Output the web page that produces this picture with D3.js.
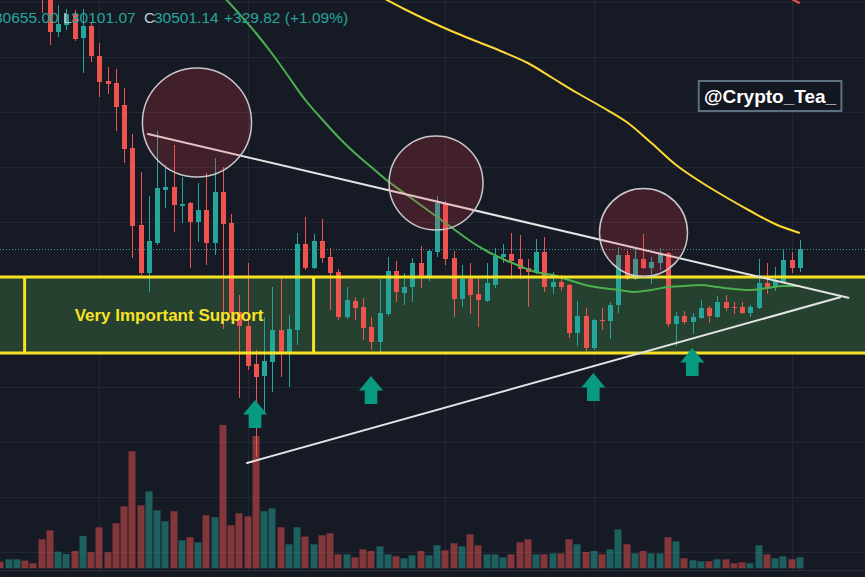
<!DOCTYPE html>
<html><head><meta charset="utf-8">
<script src="https://cdn.jsdelivr.net/npm/d3@7/dist/d3.min.js"></script>
<style>html,body{margin:0;padding:0;background:#161a25;overflow:hidden}svg{display:block}</style>
</head><body><svg id="c" width="865" height="577"></svg>
<script>
// ---- data (price per candle, index 0..97) ----
const opens = [37700,37400,37600,37700,37500,37400,35700,34900,35040,35260,34780,35020,34420,33920,33880,33440,32580,31040,30080,30680,31740,31800,31420,31480,31100,31340,30680,31700,31080,29300,29020,28260,28020,28300,28940,28480,28940,30660,30180,30720,30400,30100,29200,29520,29400,29000,28700,29260,30120,29680,29800,30280,30000,30500,31480,30380,29560,29960,29660,29520,29840,30400,30460,30360,30180,30080,30500,29800,29900,29840,28880,29220,28580,29140,29120,29440,30440,29960,30360,30180,30280,30480,29060,29220,29100,29180,29380,29200,29500,29400,29400,29280,29380,29880,29820,29900,30340,30180];
const highs = [37900,37800,37900,37850,37600,37500,35940,35440,35360,35340,35360,35100,34680,34200,34160,33780,32860,32100,31620,32920,32240,32640,32000,31500,31880,32080,32380,32200,31260,29640,30280,28540,29200,29800,29980,29240,30880,31200,30860,31160,30580,30160,29800,29600,29580,29200,29960,30400,30320,30080,30380,30620,30540,31620,31520,30520,30240,30280,30000,30280,30580,30660,30880,30840,30360,30760,30800,30100,30040,29860,29520,29380,29160,29380,29500,30600,30520,30560,30860,30400,30580,30500,29300,29320,29280,29540,29420,29620,29640,29500,29500,29440,30360,30280,30200,30560,30500,30740];
const lows = [37300,37250,37450,37400,37300,35280,34640,34800,34940,34720,34080,34300,33600,33660,32920,32280,30380,30040,29700,30640,31380,30900,31080,30180,30700,30240,30440,28960,29140,27580,28140,26400,27280,27700,28000,27800,28640,30140,30160,30280,29340,29140,29160,29140,28740,28540,28500,29220,29500,29440,29500,29780,29920,30400,30240,29200,29400,29260,29000,29500,29780,30280,29960,29960,29400,30060,29700,29660,29720,28780,28620,28520,28540,28940,28760,29280,29940,29940,30160,29860,30140,29000,28620,29060,28860,29160,29080,29180,29320,29260,29260,29200,29360,29660,29720,29880,30080,30100];
const closes = [37400,37600,37700,37500,37400,35650,34900,35060,35260,34760,35020,34420,33900,33860,33400,32560,31020,30080,30720,31780,31800,31440,31460,31100,31340,30680,31700,31060,29280,29020,28220,28000,28320,28940,28480,28960,30660,30180,30720,30380,30080,29200,29540,29380,28980,28700,29280,30120,29700,29800,30280,30000,30520,31480,30360,29560,29960,29640,29540,29880,30420,30460,30320,30160,30100,30500,29800,29900,29800,28880,29220,28580,29140,29120,29440,30440,29960,30360,30180,30300,30480,29060,29220,29100,29200,29380,29220,29500,29380,29380,29280,29400,29880,29800,29940,30340,30180,30560];
const volumes = [670,900,900,770,500,2900,3800,1670,1430,1730,3230,1600,4100,1600,4500,6200,11700,6300,7700,5800,4700,5700,2800,3100,2600,5300,5100,14330,4300,5500,5200,13230,5700,6000,4100,2400,4100,3170,2400,3300,3500,1400,1400,1100,1900,1730,2200,1400,1200,1000,1300,1730,1300,2300,1800,2500,2200,3400,2300,1400,1400,1100,1400,2600,2900,1400,1400,1500,1500,2900,2400,1630,1730,1400,1900,3900,2400,1500,1730,1500,1500,3100,2700,1000,800,700,700,900,900,500,600,500,2300,1400,1000,1200,900,1100];

// moving averages (candle index, value)
const maGreenIdx = [27,29,31,33,35,37,39,41,43,45,47,49,51,53,55,57,59,61,63,65,67,69,71,73,75,77,79,81,83,85,87,89,91,93,95,97];
const maGreenVal = [35620,35260,34880,34460,34000,33540,33160,32800,32480,32200,31920,31680,31440,31200,30960,30720,30520,30360,30220,30100,30040,29940,29840,29780,29740,29700,29740,29800,29820,29840,29800,29760,29740,29780,29820,29820];
const maYellowIdx = [46,49,52,55,58,61,64,67,70,73,76,79,82,85,88,91,94,97];
const maYellowVal = [35620,35360,35120,34900,34700,34500,34280,33980,33680,33400,33100,32680,32240,31900,31600,31320,31060,30880];
const maRedIdx = [94,95,96,97];
const maRedVal = [35740,35660,35560,35480];

// grid
const gridPrices = [24500,25600,26700,27800,28900,30000,31100,32200,33300,34400,35500];
const gridIdx = [12,30,54,72,96];

// drawings
const supportTop = 30000, supportBottom = 28480;
const supportStart = -5, supportEnd = 110;
const supportLabelFrom = 2.93, supportLabelTo = 38.0;
const supportLabel = "Very Important Support";
const circleIdx = [23.85, 52.86, 78.04];
const circlePrice = [33090, 31880, 30890];
const circleRadiusBars = [6.62, 5.70, 5.34];
const upperLine = [[17.9, 32860],[102.9, 29586]];
const lowerLine = [[29.92, 26280],[101.9, 29594]];
const arrowIdx = [30.9, 44.97, 71.95, 83.96];
const arrowPrice = [27540, 28020, 28080, 28580];
const tagText = "@Crypto_Tea_";
const tagIdx = 93.4, tagPrice = 33620;
const header = [["30655.00","#26a69a",-6],["L","#c5c8d0",63],["30101.07","#26a69a",71],["C","#c5c8d0",144],["30501.14","#26a69a",154],["+329.82 (+1.09%)","#26a69a",224]];

// ---- drawing ----
const W = 865, H = 577;
const svg = d3.select("#c");
const x = d3.scaleLinear().domain([0, 97]).range([0.46, 799.74]);
const y = d3.scaleLinear().domain([24000, 35540]).range([577, 0]);
const yv = d3.scaleLinear().domain([0, 10000]).range([568.3, 468.3]);
const UP = "#26a69a", DN = "#ef5350";
const n = closes.length;
const idx = d3.range(n);

svg.append("rect").attr("width", W).attr("height", H).attr("fill", "#161a25");

// grid
svg.append("g").selectAll("line").data(gridPrices).join("line")
  .attr("x1", 0).attr("x2", W).attr("y1", d => Math.round(y(d)) + 0.5).attr("y2", d => Math.round(y(d)) + 0.5)
  .attr("stroke", "#232733").attr("stroke-width", 1);
svg.append("g").selectAll("line").data(gridIdx).join("line")
  .attr("y1", 0).attr("y2", 571).attr("x1", d => Math.round(x(d)) + 0.5).attr("x2", d => Math.round(x(d)) + 0.5)
  .attr("stroke", "#232733").attr("stroke-width", 1);

// support box fill
const bx0 = x(supportStart), bx1 = x(supportEnd), by0 = y(supportTop), by1 = y(supportBottom);
svg.append("rect").attr("x", bx0).attr("y", by0).attr("width", bx1 - bx0).attr("height", by1 - by0)
  .attr("fill", "#26412f");

// volume
svg.append("g").selectAll("rect").data(idx).join("rect")
  .attr("x", i => Math.round(x(i)) - 3.5).attr("width", 7)
  .attr("y", i => yv(volumes[i])).attr("height", i => yv(0) - yv(volumes[i]))
  .attr("fill", i => closes[i] >= opens[i] ? UP : DN).attr("fill-opacity", 0.5);

// bottom strip
svg.append("rect").attr("x", 0).attr("y", 570).attr("width", W).attr("height", 1).attr("fill", "#2a2e39");

// last price line
svg.append("line").attr("x1", 0).attr("x2", W)
  .attr("y1", Math.round(y(closes[n - 1])) + 0.5).attr("y2", Math.round(y(closes[n - 1])) + 0.5)
  .attr("stroke", UP).attr("stroke-width", 1).attr("stroke-dasharray", "1,2");

// candles
const cg = svg.append("g").attr("shape-rendering", "crispEdges");
cg.selectAll("line").data(idx).join("line")
  .attr("x1", i => Math.round(x(i)) + 0.5).attr("x2", i => Math.round(x(i)) + 0.5)
  .attr("y1", i => y(highs[i])).attr("y2", i => y(lows[i]))
  .attr("stroke", i => closes[i] >= opens[i] ? UP : DN).attr("stroke-width", 1);
cg.selectAll("rect").data(idx).join("rect")
  .attr("x", i => Math.round(x(i)) - 2).attr("width", 5)
  .attr("y", i => y(Math.max(opens[i], closes[i])))
  .attr("height", i => Math.max(1, Math.abs(y(opens[i]) - y(closes[i]))))
  .attr("fill", i => closes[i] >= opens[i] ? UP : DN);

// moving averages
const ma = (ix, vals, col) => svg.append("path")
  .attr("d", d3.line().x(d => x(d[0])).y(d => y(d[1])).curve(d3.curveMonotoneX)(ix.map((k, j) => [k, vals[j]])))
  .attr("fill", "none").attr("stroke", col).attr("stroke-width", 2);
ma(maGreenIdx, maGreenVal, "#4caf50");
ma(maYellowIdx, maYellowVal, "#fdd835");
ma(maRedIdx, maRedVal, "#ef5350");

// support box border + label
const yel = "#f7e225";
svg.append("rect").attr("x", bx0).attr("y", by0).attr("width", bx1 - bx0).attr("height", by1 - by0)
  .attr("fill", "none").attr("stroke", yel).attr("stroke-width", 3);
[supportLabelFrom, supportLabelTo].forEach(k => svg.append("line")
  .attr("x1", x(k)).attr("x2", x(k)).attr("y1", by0).attr("y2", by1).attr("stroke", yel).attr("stroke-width", 3));
svg.append("text").attr("x", (x(supportLabelFrom) + x(supportLabelTo)) / 2).attr("y", (by0 + by1) / 2)
  .attr("text-anchor", "middle").attr("dominant-baseline", "central")
  .attr("font-family", "'Liberation Sans', Arial, sans-serif").attr("font-weight", "bold").attr("font-size", 17)
  .attr("fill", yel).text(supportLabel);

// triangle lines
[upperLine, lowerLine].forEach(l => svg.append("line")
  .attr("x1", x(l[0][0])).attr("y1", y(l[0][1])).attr("x2", x(l[1][0])).attr("y2", y(l[1][1]))
  .attr("stroke", "#e4e4e4").attr("stroke-width", 2).attr("stroke-linecap", "round"));

// circles
const bar = x(1) - x(0);
svg.append("g").selectAll("circle").data(circleIdx).join("circle")
  .attr("cx", (d) => x(d)).attr("cy", (d, j) => y(circlePrice[j])).attr("r", (d, j) => circleRadiusBars[j] * bar)
  .attr("fill", "rgba(242,54,69,0.2)").attr("stroke", "#c8c8cc").attr("stroke-width", 1.5);

// arrows
const arrowPath = "M0,0 L12,14.5 L6.3,14.5 L6.3,28 L-6.3,28 L-6.3,14.5 L-12,14.5 Z";
svg.append("g").selectAll("path").data(arrowIdx).join("path")
  .attr("transform", (d, j) => `translate(${x(d)},${y(arrowPrice[j])})`)
  .attr("d", arrowPath).attr("fill", "#089981");

// tag
const tg = svg.append("g").attr("transform", `translate(${x(tagIdx)},${y(tagPrice)})`);
const tr = tg.append("rect");
const tt = tg.append("text").attr("text-anchor", "middle").attr("dominant-baseline", "central")
  .attr("font-family", "'Liberation Sans', Arial, sans-serif").attr("font-weight", "bold").attr("font-size", 19)
  .attr("fill", "#ffffff").text(tagText);
const bb = tt.node().getBBox();
tr.attr("x", -bb.width / 2 - 5).attr("y", -15).attr("width", bb.width + 10).attr("height", 30)
  .attr("fill", "#131722").attr("stroke", "#5d7080").attr("stroke-width", 2);

// header
const ht = svg.append("text").attr("y", 22.7).attr("font-family", "'Liberation Sans', Arial, sans-serif").attr("font-size", 15.5);
header.forEach(h => ht.append("tspan").attr("x", h[2]).attr("fill", h[1]).text(h[0]));
</script></body></html>
